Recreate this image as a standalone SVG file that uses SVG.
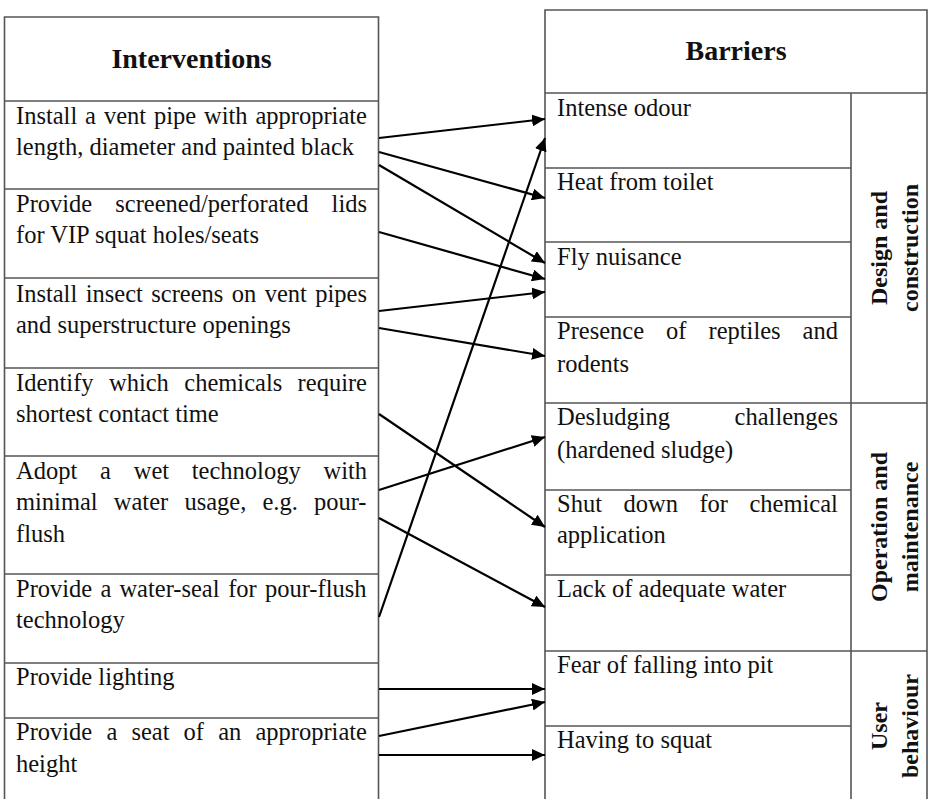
<svg xmlns="http://www.w3.org/2000/svg" width="928" height="799" viewBox="0 0 928 799">
<style>
.bg{fill:#fff}
.ln{stroke:#555;stroke-width:1.6;fill:none}
.t{font-family:"Liberation Serif","Times New Roman",serif;font-size:24.5px;fill:#111}
.h{font-family:"Liberation Serif","Times New Roman",serif;font-size:28px;font-weight:bold;fill:#111;text-anchor:middle}
.g{font-family:"Liberation Serif","Times New Roman",serif;font-size:24px;font-weight:bold;fill:#111;text-anchor:middle}
.a{stroke:#000;stroke-width:2.2;fill:none;marker-end:url(#ah)}
</style>
<defs>
<marker id="ah" markerUnits="userSpaceOnUse" markerWidth="13" markerHeight="12" refX="13" refY="6" orient="auto">
<path d="M0,0 L13,6 L0,12 z" fill="#000"/>
</marker>
</defs>
<rect class="bg" x="0" y="0" width="928" height="799"/>

<g id="interventions-table">
<path class="ln" d="M4.5,799 V17 H378.5 V799"/>
<path class="ln" d="M4.5,101 H378.5 M4.5,189 H378.5 M4.5,278 H378.5 M4.5,368 H378.5 M4.5,456 H378.5 M4.5,574 H378.5 M4.5,663 H378.5 M4.5,718 H378.5"/>
</g>
<g id="barriers-table">
<path class="ln" d="M545,799 V10 H927 V799"/>
<path class="ln" d="M545,93 H927 M851,93 V799 M545,168 H851 M545,242 H851 M545,317 H851 M545,403 H927 M545,490 H851 M545,575 H851 M545,651 H927 M545,726 H851"/>
</g>

<g id="hdr-interventions"><text class="h" x="191.5" y="68">Interventions</text></g>
<g id="hdr-barriers"><text class="h" x="736" y="60">Barriers</text></g>

<g id="i1"><text class="t"><tspan x="16" y="124">Install</tspan><tspan x="85.1" y="124">a</tspan><tspan x="103.9" y="124">vent</tspan><tspan x="153.9" y="124">pipe</tspan><tspan x="204" y="124">with</tspan><tspan x="255.4" y="124">appropriate</tspan><tspan x="16" y="155">length, diameter and painted black</tspan></text></g>
<g id="i2"><text class="t"><tspan x="16" y="212">Provide</tspan><tspan x="115.3" y="212">screened/perforated</tspan><tspan x="331.6" y="212">lids</tspan><tspan x="16" y="243">for VIP squat holes/seats</tspan></text></g>
<g id="i3"><text class="t"><tspan x="16" y="302">Install</tspan><tspan x="85.7" y="302">insect</tspan><tspan x="151.3" y="302">screens</tspan><tspan x="231.8" y="302">on</tspan><tspan x="264.7" y="302">vent</tspan><tspan x="315.3" y="302">pipes</tspan><tspan x="16" y="333">and superstructure openings</tspan></text></g>
<g id="i4"><text class="t"><tspan x="16" y="391">Identify</tspan><tspan x="109" y="391">which</tspan><tspan x="184.3" y="391">chemicals</tspan><tspan x="297.6" y="391">require</tspan><tspan x="16" y="422">shortest contact time</tspan></text></g>
<g id="i5"><text class="t"><tspan x="16" y="479">Adopt</tspan><tspan x="100" y="479">a</tspan><tspan x="133.7" y="479">wet</tspan><tspan x="191.8" y="479">technology</tspan><tspan x="323.5" y="479">with</tspan><tspan x="16" y="510">minimal</tspan><tspan x="113.8" y="510">water</tspan><tspan x="184.4" y="510">usage,</tspan><tspan x="262.4" y="510">e.g.</tspan><tspan x="313.9" y="510">pour-</tspan><tspan x="16" y="542">flush</tspan></text></g>
<g id="i6"><text class="t"><tspan x="16" y="597">Provide</tspan><tspan x="100.4" y="597">a</tspan><tspan x="119.4" y="597">water-seal</tspan><tspan x="228.2" y="597">for</tspan><tspan x="264.9" y="597">pour-flush</tspan><tspan x="16" y="628">technology</tspan></text></g>
<g id="i7"><text class="t" x="16" y="685">Provide lighting</text></g>
<g id="i8"><text class="t"><tspan x="16" y="740">Provide</tspan><tspan x="106.4" y="740">a</tspan><tspan x="131.4" y="740">seat</tspan><tspan x="183.6" y="740">of</tspan><tspan x="218.2" y="740">an</tspan><tspan x="255.4" y="740">appropriate</tspan><tspan x="16" y="772">height</tspan></text></g>

<g id="b1"><text class="t" x="557" y="116">Intense odour</text></g>
<g id="b2"><text class="t" x="557" y="190">Heat from toilet</text></g>
<g id="b3"><text class="t" x="557" y="265">Fly nuisance</text></g>
<g id="b4"><text class="t"><tspan x="557" y="339">Presence</tspan><tspan x="666.1" y="339">of</tspan><tspan x="708.5" y="339">reptiles</tspan><tspan x="802.6" y="339">and</tspan><tspan x="557" y="372">rodents</tspan></text></g>
<g id="b5"><text class="t"><tspan x="557" y="425">Desludging</tspan><tspan x="734.6" y="425">challenges</tspan><tspan x="557" y="458">(hardened sludge)</tspan></text></g>
<g id="b6"><text class="t"><tspan x="557" y="512">Shut</tspan><tspan x="623.5" y="512">down</tspan><tspan x="699.4" y="512">for</tspan><tspan x="749.5" y="512">chemical</tspan><tspan x="557" y="543">application</tspan></text></g>
<g id="b7"><text class="t" x="557" y="597">Lack of adequate water</text></g>
<g id="b8"><text class="t" x="557" y="673">Fear of falling into pit</text></g>
<g id="b9"><text class="t" x="557" y="748">Having to squat</text></g>

<g id="grp-design"><text class="g" transform="translate(887,248) rotate(-90)">Design and</text><text class="g" transform="translate(918,248) rotate(-90)">construction</text></g>
<g id="grp-operation"><text class="g" transform="translate(887,527) rotate(-90)">Operation and</text><text class="g" transform="translate(918,527) rotate(-90)">maintenance</text></g>
<g id="grp-user"><text class="g" transform="translate(887,726) rotate(-90)">User</text><text class="g" transform="translate(918,726) rotate(-90)">behaviour</text></g>

<g id="connectors">
<line class="a" x1="379" y1="138" x2="545" y2="119"/>
<line class="a" x1="379" y1="152" x2="545" y2="198"/>
<line class="a" x1="379" y1="165" x2="545" y2="263"/>
<line class="a" x1="379" y1="232" x2="545" y2="279"/>
<line class="a" x1="379" y1="311" x2="545" y2="292"/>
<line class="a" x1="379" y1="328" x2="545" y2="356"/>
<line class="a" x1="379" y1="414" x2="545" y2="527"/>
<line class="a" x1="379" y1="490" x2="545" y2="437"/>
<line class="a" x1="379" y1="518" x2="545" y2="607"/>
<line class="a" x1="379" y1="617" x2="545" y2="138"/>
<line class="a" x1="379" y1="689" x2="545" y2="689"/>
<line class="a" x1="379" y1="736" x2="545" y2="702"/>
<line class="a" x1="379" y1="755" x2="545" y2="755"/>
</g>
</svg>
